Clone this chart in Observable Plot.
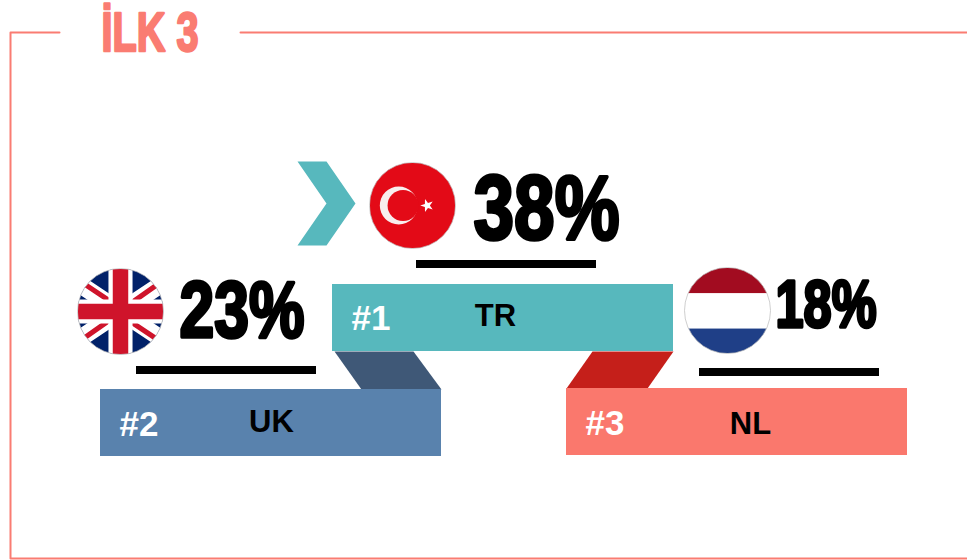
<!DOCTYPE html>
<html>
<head>
<meta charset="utf-8">
<script src="https://cdn.jsdelivr.net/npm/d3@7"></script>
<script src="https://cdn.jsdelivr.net/npm/@observablehq/plot@0.6"></script>
<style>html,body{margin:0;padding:0;background:#fff}svg{display:block}</style>
</head>
<body>
<div id="chart"></div>
<script>
// Data
const titleText = "İLK 3";
const countries = ["TR", "UK", "NL"];
const shares = [38, 23, 18];
const ranks = ["#1", "#2", "#3"];

// Layout (page pixels, fed through the linear x/y scales)
const barLeft = [332, 100, 566];
const barTop = [284, 389, 388];
const barW = 341, barH = 67;
const barColors = ["#57b8bd", "#5982ad", "#fa786d"];
const pctX = [473, 179, 775];
const pctY = [238, 336, 326];
const pctSize = [91, 79, 67];
const pctLen = [146, 125, 101];
const codeX = [495, 271, 750];
const codeY = [316, 422, 424];
const rankX = [351, 119, 585];
const rankY = [318, 424, 423];
const ruleX = [416, 136, 699];
const ruleY = [264, 370, 372];
const flagX = [412, 120, 727];
const flagY = [205, 311, 310];
const coral = "#fa7c72";

const flagSvg = s => "data:image/svg+xml;utf8," + encodeURIComponent(
  `<svg xmlns="http://www.w3.org/2000/svg" viewBox="0 0 100 100">${s}</svg>`);
const star = "M0-8L1.88-2.59 7.61-2.47 3.04.99 4.7 6.47 0 3.2-4.7 6.47-3.04.99-7.61-2.47-1.88-2.59z";
const flags = [
  flagSvg(`<rect width="100" height="100" fill="#e30a17"/><circle cx="34" cy="50" r="22" fill="#f8eeee"/><circle cx="39" cy="50" r="18" fill="#e30a17"/><path d="${star}" fill="#fff" transform="translate(67 50) rotate(-18)"/>`),
  flagSvg(`<rect width="100" height="100" fill="#012169"/><path d="M-25 0L125 100M125 0L-25 100" stroke="#fff" stroke-width="20"/><path d="M-25-4L50 46M125 104L50 54M125-4L54 46M-25 104L46 54" stroke="#cf142b" stroke-width="6"/><path d="M50 0V100M0 50H100" stroke="#fff" stroke-width="28"/><path d="M50 0V100M0 50H100" stroke="#cf142b" stroke-width="18"/>`),
  flagSvg(`<rect width="100" height="30" fill="#a20c20"/><rect y="30" width="100" height="41" fill="#fff"/><rect y="71" width="100" height="29" fill="#1f3f87"/>`)
];

const idx = countries.map((_, i) => i);
const impactFont = "'Liberation Sans Narrow','Liberation Sans',sans-serif";
const armFont = "'Liberation Sans',Arial,sans-serif";
const ribbons = [
  {c: "#3f5877", pts: [[334,351],[413,351],[441,389],[361,389]]},
  {c: "#c51f1a", pts: [[592,351],[673,351],[647,388],[566,388]]}
];
const chevron = [[297,161],[326,161],[355,203],[326,245],[297,245],[326,203],[297,161]];
const frame = [[59,32],[10,32],[10,558],[967,558]];
const frameTail = [[240,32],[967,32]];

function fitted(lengths) {
  return function(index, scales, values, dims, ctx, next) {
    const g = next(index, scales, values, dims, ctx);
    d3.select(g).selectAll("text").each(function(_, k) {
      this.setAttribute("textLength", lengths[index[k]]);
      this.setAttribute("lengthAdjust", "spacingAndGlyphs");
    });
    return g;
  };
}

const plot = Plot.plot({
  width: 967, height: 560,
  marginTop: 0, marginRight: 0, marginBottom: 0, marginLeft: 0,
  x: {domain: [0, 967], range: [0, 967], axis: null},
  y: {domain: [0, 560], range: [0, 560], axis: null},
  style: {background: "#fff"},
  marks: [
    Plot.line(frame, {x: d => d[0], y: d => d[1], stroke: coral, strokeWidth: 2, curve: "linear"}),
    Plot.line(frameTail, {x: d => d[0], y: d => d[1], stroke: coral, strokeWidth: 2}),
    Plot.text([titleText], {x: [101], y: [50], text: d => d, textAnchor: "start", lineAnchor: "bottom",
      fontFamily: impactFont, fontWeight: "bold", fontSize: 56, fill: coral, stroke: coral, strokeWidth: 2.5,
      render: fitted([97])}),
    ...ribbons.map(r => Plot.line([...r.pts, r.pts[0]], {x: d => d[0], y: d => d[1], fill: r.c, stroke: "none"})),
    Plot.rect(idx, {x1: i => barLeft[i], x2: i => barLeft[i] + barW, y1: i => barTop[i], y2: i => barTop[i] + barH, fill: i => barColors[i]}),
    Plot.line(chevron, {x: d => d[0], y: d => d[1], fill: "#57b8bd", stroke: "none"}),
    Plot.rect(idx, {x1: i => ruleX[i], x2: i => ruleX[i] + 180, y1: i => ruleY[i] - 4, y2: i => ruleY[i] + 4, fill: "#000"}),
    Plot.image(idx, {x: i => flagX[i], y: i => flagY[i], src: i => flags[i], r: 43, preserveAspectRatio: "xMidYMid slice"}),
    Plot.dot(idx, {x: i => flagX[i], y: i => flagY[i], r: 43, stroke: "#bbb", strokeWidth: 1, strokeOpacity: 0.7, fill: "none"}),
    Plot.text(idx, {x: i => pctX[i], y: i => pctY[i], text: i => shares[i] + "%", textAnchor: "start", lineAnchor: "bottom",
      fontFamily: impactFont, fontWeight: "bold", fontSize: i => pctSize[i], fill: "#000", stroke: "#000", strokeWidth: 3.5,
      render: fitted(pctLen)}),
    Plot.text(idx, {x: i => rankX[i], y: i => rankY[i], text: i => ranks[i], textAnchor: "start", lineAnchor: "middle",
      fontFamily: armFont, fontWeight: "bold", fontSize: 35, fill: "#fff"}),
    Plot.text(idx, {x: i => codeX[i], y: i => codeY[i], text: i => countries[i], textAnchor: "middle", lineAnchor: "middle",
      fontFamily: armFont, fontWeight: "bold", fontSize: 31, fill: "#000"})
  ]
});
document.getElementById("chart").append(plot);
</script>
</body>
</html>
